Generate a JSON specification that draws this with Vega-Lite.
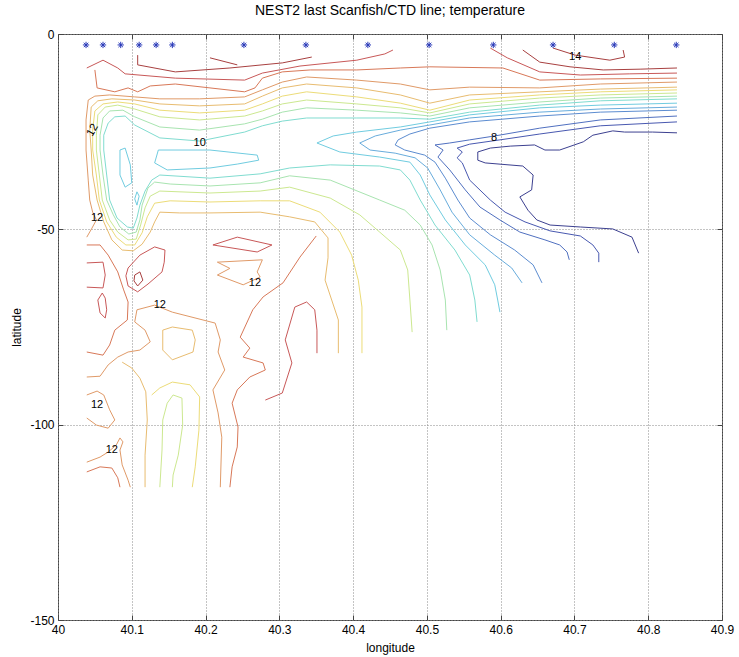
{
"$schema":"https://vega.github.io/schema/vega-lite/v6.json",
"width":664,"height":586,
"autosize":{"type":"none"},
"padding":{"left":58,"top":34,"right":17,"bottom":37},
"background":"#ffffff",
"title":{"text":"NEST2 last Scanfish/CTD line; temperature","font":"Liberation Sans","fontSize":14,"fontWeight":"normal","color":"#000000","offset":10},
"config":{"view":{"stroke":"#444444","strokeWidth":1},"font":"Liberation Sans",
"axis":{"labelFont":"Liberation Sans","labelFontSize":12,"labelColor":"#000000","titleFont":"Liberation Sans","titleFontSize":12,"titleFontWeight":"normal","titleColor":"#000000","domain":false,"tickColor":"#444444","gridColor":"#888888","gridDash":[1,2],"gridOpacity":1}},
"resolve":{"axis":{"x":"independent","y":"independent"}},
"datasets":{
"stars":[{"x":40.038,"y":-2.8},{"x":40.061,"y":-2.8},{"x":40.085,"y":-2.8},{"x":40.110,"y":-2.8},{"x":40.133,"y":-2.8},{"x":40.155,"y":-2.8},{"x":40.252,"y":-2.8},{"x":40.336,"y":-2.8},{"x":40.420,"y":-2.8},{"x":40.503,"y":-2.8},{"x":40.590,"y":-2.8},{"x":40.671,"y":-2.8},{"x":40.754,"y":-2.8},{"x":40.838,"y":-2.8}],
"labels":[{"s":"14","x":40.701,"y":-5.9},{"s":"10","x":40.192,"y":-27.9},{"s":"8","x":40.591,"y":-26.6},{"s":"12","x":40.053,"y":-47.1},{"s":"12","x":40.267,"y":-63.7},{"s":"12","x":40.138,"y":-69.4},{"s":"12","x":40.053,"y":-94.9},{"s":"12","x":40.073,"y":-106.5}],
"rlabels":[{"s":"12","x":40.047,"y":-24.6}],
"lines":[
{"k":"a1","t":14,"x":40.108,"y":-5.4},{"k":"a1","t":14,"x":40.108,"y":-7.9},{"k":"a1","t":14,"x":40.159,"y":-9.7},{"k":"a1","t":14,"x":40.233,"y":-8.7},{"k":"a1","t":14,"x":40.304,"y":-7.4},{"k":"a1","t":14,"x":40.344,"y":-5.9},
{"k":"a2","t":14,"x":40.206,"y":-6.1},{"k":"a2","t":14,"x":40.243,"y":-7.9},
{"k":"a3","t":14,"x":40.630,"y":-4.1},{"k":"a3","t":14,"x":40.653,"y":-7.2},{"k":"a3","t":14,"x":40.694,"y":-8.4},{"k":"a3","t":14,"x":40.739,"y":-9.2},{"k":"a3","t":14,"x":40.789,"y":-9.0},{"k":"a3","t":14,"x":40.839,"y":-8.7},
{"k":"a4","t":14,"x":40.671,"y":-3.6},{"k":"a4","t":14,"x":40.701,"y":-5.4},{"k":"a4","t":14,"x":40.748,"y":-6.7},{"k":"a4","t":14,"x":40.768,"y":-5.9},{"k":"a4","t":14,"x":40.766,"y":-4.1},
{"k":"b1","t":13.5,"x":40.039,"y":-8.7},{"k":"b1","t":13.5,"x":40.061,"y":-6.7},{"k":"b1","t":13.5,"x":40.081,"y":-8.7},{"k":"b1","t":13.5,"x":40.091,"y":-10.2},{"k":"b1","t":13.5,"x":40.159,"y":-11.3},{"k":"b1","t":13.5,"x":40.253,"y":-11.8},{"k":"b1","t":13.5,"x":40.277,"y":-10.0},{"k":"b1","t":13.5,"x":40.328,"y":-8.2},{"k":"b1","t":13.5,"x":40.405,"y":-6.7},{"k":"b1","t":13.5,"x":40.443,"y":-5.1},{"k":"b1","t":13.5,"x":40.454,"y":-4.1},
{"k":"b2","t":13.5,"x":40.586,"y":-3.6},{"k":"b2","t":13.5,"x":40.609,"y":-6.1},{"k":"b2","t":13.5,"x":40.653,"y":-9.7},{"k":"b2","t":13.5,"x":40.708,"y":-10.5},{"k":"b2","t":13.5,"x":40.775,"y":-10.2},{"k":"b2","t":13.5,"x":40.839,"y":-10.0},
{"k":"c1","t":13,"x":40.050,"y":-9.2},{"k":"c1","t":13,"x":40.053,"y":-13.8},{"k":"c1","t":13,"x":40.077,"y":-14.8},{"k":"c1","t":13,"x":40.095,"y":-13.8},{"k":"c1","t":13,"x":40.108,"y":-14.8},{"k":"c1","t":13,"x":40.125,"y":-13.3},{"k":"c1","t":13,"x":40.159,"y":-12.8},{"k":"c1","t":13,"x":40.253,"y":-14.8},{"k":"c1","t":13,"x":40.267,"y":-13.8},{"k":"c1","t":13,"x":40.277,"y":-11.3},{"k":"c1","t":13,"x":40.304,"y":-9.7},{"k":"c1","t":13,"x":40.342,"y":-9.2},{"k":"c1","t":13,"x":40.405,"y":-9.2},{"k":"c1","t":13,"x":40.464,"y":-8.7},{"k":"c1","t":13,"x":40.504,"y":-8.4},{"k":"c1","t":13,"x":40.603,"y":-8.7},{"k":"c1","t":13,"x":40.653,"y":-11.8},{"k":"c1","t":13,"x":40.735,"y":-11.5},{"k":"c1","t":13,"x":40.839,"y":-11.3},
{"k":"d1","t":12.5,"x":40.839,"y":-12.3},{"k":"d1","t":12.5,"x":40.735,"y":-12.8},{"k":"d1","t":12.5,"x":40.653,"y":-13.8},{"k":"d1","t":12.5,"x":40.558,"y":-13.6},{"k":"d1","t":12.5,"x":40.504,"y":-14.3},{"k":"d1","t":12.5,"x":40.464,"y":-12.8},{"k":"d1","t":12.5,"x":40.405,"y":-11.8},{"k":"d1","t":12.5,"x":40.337,"y":-11.0},{"k":"d1","t":12.5,"x":40.304,"y":-12.3},{"k":"d1","t":12.5,"x":40.277,"y":-14.3},{"k":"d1","t":12.5,"x":40.253,"y":-16.1},{"k":"d1","t":12.5,"x":40.192,"y":-16.6},{"k":"d1","t":12.5,"x":40.138,"y":-16.6},{"k":"d1","t":12.5,"x":40.104,"y":-16.1},{"k":"d1","t":12.5,"x":40.070,"y":-15.6},{"k":"d1","t":12.5,"x":40.050,"y":-15.9},{"k":"d1","t":12.5,"x":40.041,"y":-16.9},{"k":"d1","t":12.5,"x":40.038,"y":-22.0},{"k":"d1","t":12.5,"x":40.038,"y":-29.7},{"k":"d1","t":12.5,"x":40.041,"y":-37.4},{"k":"d1","t":12.5,"x":40.043,"y":-42.5},{"k":"d1","t":12.5,"x":40.047,"y":-45.6},{"k":"d1","t":12.5,"x":40.052,"y":-47.6},{"k":"d1","t":12.5,"x":40.046,"y":-49.7},{"k":"d1","t":12.5,"x":40.039,"y":-52.0},
{"k":"e1","t":12,"x":40.839,"y":-13.6},{"k":"e1","t":12,"x":40.735,"y":-14.1},{"k":"e1","t":12,"x":40.653,"y":-14.8},{"k":"e1","t":12,"x":40.558,"y":-15.6},{"k":"e1","t":12,"x":40.504,"y":-17.7},{"k":"e1","t":12,"x":40.464,"y":-15.6},{"k":"e1","t":12,"x":40.405,"y":-13.8},{"k":"e1","t":12,"x":40.337,"y":-12.8},{"k":"e1","t":12,"x":40.304,"y":-13.8},{"k":"e1","t":12,"x":40.277,"y":-15.9},{"k":"e1","t":12,"x":40.253,"y":-17.9},{"k":"e1","t":12,"x":40.192,"y":-18.4},{"k":"e1","t":12,"x":40.138,"y":-17.9},{"k":"e1","t":12,"x":40.104,"y":-16.9},{"k":"e1","t":12,"x":40.073,"y":-16.6},{"k":"e1","t":12,"x":40.054,"y":-17.1},{"k":"e1","t":12,"x":40.045,"y":-18.7},{"k":"e1","t":12,"x":40.043,"y":-24.6},{"k":"e1","t":12,"x":40.045,"y":-29.7},{"k":"e1","t":12,"x":40.047,"y":-36.1},{"k":"e1","t":12,"x":40.053,"y":-42.5},{"k":"e1","t":12,"x":40.062,"y":-48.1},{"k":"e1","t":12,"x":40.073,"y":-52.7},{"k":"e1","t":12,"x":40.087,"y":-55.3},{"k":"e1","t":12,"x":40.102,"y":-55.5},{"k":"e1","t":12,"x":40.114,"y":-53.8},{"k":"e1","t":12,"x":40.125,"y":-50.7},{"k":"e1","t":12,"x":40.131,"y":-48.1},{"k":"e1","t":12,"x":40.138,"y":-45.6},{"k":"e1","t":12,"x":40.165,"y":-45.8},{"k":"e1","t":12,"x":40.206,"y":-45.8},{"k":"e1","t":12,"x":40.274,"y":-45.6},{"k":"e1","t":12,"x":40.314,"y":-46.8},{"k":"e1","t":12,"x":40.348,"y":-48.1},{"k":"e1","t":12,"x":40.366,"y":-52.2},{"k":"e1","t":12,"x":40.366,"y":-57.3},{"k":"e1","t":12,"x":40.362,"y":-63.0},{"k":"e1","t":12,"x":40.371,"y":-68.1},{"k":"e1","t":12,"x":40.380,"y":-73.2},{"k":"e1","t":12,"x":40.380,"y":-81.7},
{"k":"f1","t":11.5,"x":40.839,"y":-14.3},{"k":"f1","t":11.5,"x":40.735,"y":-14.8},{"k":"f1","t":11.5,"x":40.653,"y":-15.6},{"k":"f1","t":11.5,"x":40.558,"y":-16.9},{"k":"f1","t":11.5,"x":40.504,"y":-19.5},{"k":"f1","t":11.5,"x":40.464,"y":-17.7},{"k":"f1","t":11.5,"x":40.405,"y":-16.1},{"k":"f1","t":11.5,"x":40.337,"y":-14.8},{"k":"f1","t":11.5,"x":40.304,"y":-15.9},{"k":"f1","t":11.5,"x":40.277,"y":-17.9},{"k":"f1","t":11.5,"x":40.253,"y":-19.5},{"k":"f1","t":11.5,"x":40.192,"y":-20.2},{"k":"f1","t":11.5,"x":40.138,"y":-19.5},{"k":"f1","t":11.5,"x":40.104,"y":-17.9},{"k":"f1","t":11.5,"x":40.081,"y":-17.4},{"k":"f1","t":11.5,"x":40.061,"y":-17.9},{"k":"f1","t":11.5,"x":40.050,"y":-19.7},{"k":"f1","t":11.5,"x":40.047,"y":-24.6},{"k":"f1","t":11.5,"x":40.047,"y":-29.7},{"k":"f1","t":11.5,"x":40.052,"y":-36.1},{"k":"f1","t":11.5,"x":40.056,"y":-42.5},{"k":"f1","t":11.5,"x":40.066,"y":-48.1},{"k":"f1","t":11.5,"x":40.079,"y":-52.0},{"k":"f1","t":11.5,"x":40.092,"y":-54.0},{"k":"f1","t":11.5,"x":40.104,"y":-54.0},{"k":"f1","t":11.5,"x":40.114,"y":-50.9},{"k":"f1","t":11.5,"x":40.121,"y":-46.8},{"k":"f1","t":11.5,"x":40.131,"y":-43.3},{"k":"f1","t":11.5,"x":40.152,"y":-42.7},{"k":"f1","t":11.5,"x":40.206,"y":-43.0},{"k":"f1","t":11.5,"x":40.274,"y":-42.7},{"k":"f1","t":11.5,"x":40.314,"y":-42.7},{"k":"f1","t":11.5,"x":40.355,"y":-45.6},{"k":"f1","t":11.5,"x":40.382,"y":-50.7},{"k":"f1","t":11.5,"x":40.398,"y":-56.6},{"k":"f1","t":11.5,"x":40.407,"y":-63.0},{"k":"f1","t":11.5,"x":40.412,"y":-69.9},{"k":"f1","t":11.5,"x":40.412,"y":-81.7},
{"k":"g1","t":11,"x":40.839,"y":-15.1},{"k":"g1","t":11,"x":40.735,"y":-15.6},{"k":"g1","t":11,"x":40.653,"y":-16.4},{"k":"g1","t":11,"x":40.558,"y":-17.9},{"k":"g1","t":11,"x":40.504,"y":-20.2},{"k":"g1","t":11,"x":40.464,"y":-18.9},{"k":"g1","t":11,"x":40.405,"y":-17.9},{"k":"g1","t":11,"x":40.337,"y":-16.9},{"k":"g1","t":11,"x":40.304,"y":-17.9},{"k":"g1","t":11,"x":40.277,"y":-19.7},{"k":"g1","t":11,"x":40.253,"y":-21.0},{"k":"g1","t":11,"x":40.192,"y":-22.0},{"k":"g1","t":11,"x":40.138,"y":-21.2},{"k":"g1","t":11,"x":40.104,"y":-19.2},{"k":"g1","t":11,"x":40.081,"y":-18.2},{"k":"g1","t":11,"x":40.064,"y":-18.7},{"k":"g1","t":11,"x":40.054,"y":-20.7},{"k":"g1","t":11,"x":40.052,"y":-25.9},{"k":"g1","t":11,"x":40.052,"y":-29.7},{"k":"g1","t":11,"x":40.056,"y":-36.1},{"k":"g1","t":11,"x":40.060,"y":-42.5},{"k":"g1","t":11,"x":40.070,"y":-47.6},{"k":"g1","t":11,"x":40.081,"y":-50.7},{"k":"g1","t":11,"x":40.095,"y":-52.7},{"k":"g1","t":11,"x":40.106,"y":-52.5},{"k":"g1","t":11,"x":40.112,"y":-48.9},{"k":"g1","t":11,"x":40.118,"y":-44.5},{"k":"g1","t":11,"x":40.125,"y":-41.5},{"k":"g1","t":11,"x":40.138,"y":-40.2},{"k":"g1","t":11,"x":40.206,"y":-40.7},{"k":"g1","t":11,"x":40.274,"y":-40.2},{"k":"g1","t":11,"x":40.314,"y":-39.2},{"k":"g1","t":11,"x":40.369,"y":-42.0},{"k":"g1","t":11,"x":40.409,"y":-46.3},{"k":"g1","t":11,"x":40.436,"y":-50.7},{"k":"g1","t":11,"x":40.464,"y":-55.3},{"k":"g1","t":11,"x":40.474,"y":-60.4},{"k":"g1","t":11,"x":40.477,"y":-68.1},{"k":"g1","t":11,"x":40.480,"y":-76.3},
{"k":"h1","t":10.5,"x":40.839,"y":-15.9},{"k":"h1","t":10.5,"x":40.735,"y":-16.4},{"k":"h1","t":10.5,"x":40.653,"y":-17.4},{"k":"h1","t":10.5,"x":40.558,"y":-18.9},{"k":"h1","t":10.5,"x":40.504,"y":-21.0},{"k":"h1","t":10.5,"x":40.464,"y":-20.2},{"k":"h1","t":10.5,"x":40.405,"y":-19.5},{"k":"h1","t":10.5,"x":40.337,"y":-18.9},{"k":"h1","t":10.5,"x":40.304,"y":-20.0},{"k":"h1","t":10.5,"x":40.277,"y":-21.8},{"k":"h1","t":10.5,"x":40.253,"y":-23.0},{"k":"h1","t":10.5,"x":40.192,"y":-24.6},{"k":"h1","t":10.5,"x":40.138,"y":-23.8},{"k":"h1","t":10.5,"x":40.104,"y":-21.2},{"k":"h1","t":10.5,"x":40.088,"y":-19.5},{"k":"h1","t":10.5,"x":40.070,"y":-19.7},{"k":"h1","t":10.5,"x":40.061,"y":-21.5},{"k":"h1","t":10.5,"x":40.057,"y":-25.9},{"k":"h1","t":10.5,"x":40.057,"y":-29.7},{"k":"h1","t":10.5,"x":40.061,"y":-36.1},{"k":"h1","t":10.5,"x":40.066,"y":-42.5},{"k":"h1","t":10.5,"x":40.075,"y":-46.3},{"k":"h1","t":10.5,"x":40.084,"y":-49.4},{"k":"h1","t":10.5,"x":40.096,"y":-51.2},{"k":"h1","t":10.5,"x":40.106,"y":-50.7},{"k":"h1","t":10.5,"x":40.111,"y":-47.6},{"k":"h1","t":10.5,"x":40.114,"y":-43.8},{"k":"h1","t":10.5,"x":40.122,"y":-39.4},{"k":"h1","t":10.5,"x":40.131,"y":-37.9},{"k":"h1","t":10.5,"x":40.152,"y":-38.4},{"k":"h1","t":10.5,"x":40.206,"y":-38.9},{"k":"h1","t":10.5,"x":40.274,"y":-38.1},{"k":"h1","t":10.5,"x":40.314,"y":-36.3},{"k":"h1","t":10.5,"x":40.369,"y":-37.4},{"k":"h1","t":10.5,"x":40.436,"y":-42.5},{"k":"h1","t":10.5,"x":40.470,"y":-45.1},{"k":"h1","t":10.5,"x":40.491,"y":-48.9},{"k":"h1","t":10.5,"x":40.507,"y":-54.0},{"k":"h1","t":10.5,"x":40.518,"y":-60.4},{"k":"h1","t":10.5,"x":40.525,"y":-68.1},{"k":"h1","t":10.5,"x":40.527,"y":-75.8},
{"k":"i1","t":10,"x":40.839,"y":-16.6},{"k":"i1","t":10,"x":40.735,"y":-17.1},{"k":"i1","t":10,"x":40.653,"y":-18.2},{"k":"i1","t":10,"x":40.558,"y":-20.0},{"k":"i1","t":10,"x":40.504,"y":-21.8},{"k":"i1","t":10,"x":40.464,"y":-21.5},{"k":"i1","t":10,"x":40.405,"y":-21.5},{"k":"i1","t":10,"x":40.337,"y":-21.5},{"k":"i1","t":10,"x":40.304,"y":-22.3},{"k":"i1","t":10,"x":40.277,"y":-23.5},{"k":"i1","t":10,"x":40.253,"y":-25.1},{"k":"i1","t":10,"x":40.192,"y":-27.4},{"k":"i1","t":10,"x":40.138,"y":-26.6},{"k":"i1","t":10,"x":40.104,"y":-23.3},{"k":"i1","t":10,"x":40.091,"y":-21.0},{"k":"i1","t":10,"x":40.077,"y":-21.2},{"k":"i1","t":10,"x":40.068,"y":-22.8},{"k":"i1","t":10,"x":40.062,"y":-25.9},{"k":"i1","t":10,"x":40.062,"y":-29.7},{"k":"i1","t":10,"x":40.066,"y":-36.1},{"k":"i1","t":10,"x":40.070,"y":-42.5},{"k":"i1","t":10,"x":40.080,"y":-47.1},{"k":"i1","t":10,"x":40.094,"y":-49.4},{"k":"i1","t":10,"x":40.102,"y":-49.7},{"k":"i1","t":10,"x":40.107,"y":-47.1},{"k":"i1","t":10,"x":40.111,"y":-43.8},{"k":"i1","t":10,"x":40.118,"y":-40.2},{"k":"i1","t":10,"x":40.127,"y":-37.4},{"k":"i1","t":10,"x":40.138,"y":-36.1},{"k":"i1","t":10,"x":40.206,"y":-36.9},{"k":"i1","t":10,"x":40.274,"y":-35.8},{"k":"i1","t":10,"x":40.314,"y":-34.3},{"k":"i1","t":10,"x":40.369,"y":-33.5},{"k":"i1","t":10,"x":40.436,"y":-33.8},{"k":"i1","t":10,"x":40.464,"y":-34.8},{"k":"i1","t":10,"x":40.477,"y":-37.4},{"k":"i1","t":10,"x":40.491,"y":-42.5},{"k":"i1","t":10,"x":40.511,"y":-48.9},{"k":"i1","t":10,"x":40.538,"y":-55.3},{"k":"i1","t":10,"x":40.558,"y":-61.7},{"k":"i1","t":10,"x":40.565,"y":-68.1},{"k":"i1","t":10,"x":40.568,"y":-73.7},
{"k":"j1","t":9.5,"x":40.136,"y":-29.7},{"k":"j1","t":9.5,"x":40.206,"y":-29.7},{"k":"j1","t":9.5,"x":40.270,"y":-31.0},{"k":"j1","t":9.5,"x":40.272,"y":-32.3},{"k":"j1","t":9.5,"x":40.243,"y":-33.3},{"k":"j1","t":9.5,"x":40.206,"y":-34.3},{"k":"j1","t":9.5,"x":40.148,"y":-34.8},{"k":"j1","t":9.5,"x":40.131,"y":-33.0},{"k":"j1","t":9.5,"x":40.136,"y":-29.7},
{"k":"j2","t":9.5,"x":40.084,"y":-29.7},{"k":"j2","t":9.5,"x":40.091,"y":-29.2},{"k":"j2","t":9.5,"x":40.098,"y":-33.5},{"k":"j2","t":9.5,"x":40.100,"y":-38.1},{"k":"j2","t":9.5,"x":40.091,"y":-39.2},{"k":"j2","t":9.5,"x":40.084,"y":-36.1},{"k":"j2","t":9.5,"x":40.084,"y":-29.7},
{"k":"j3","t":9.5,"x":40.107,"y":-40.4},{"k":"j3","t":9.5,"x":40.110,"y":-41.5},{"k":"j3","t":9.5,"x":40.107,"y":-43.8},{"k":"j3","t":9.5,"x":40.104,"y":-42.2},{"k":"j3","t":9.5,"x":40.107,"y":-40.4},
{"k":"m6","t":9.5,"x":40.839,"y":-17.7},{"k":"m6","t":9.5,"x":40.735,"y":-18.2},{"k":"m6","t":9.5,"x":40.653,"y":-18.9},{"k":"m6","t":9.5,"x":40.558,"y":-20.7},{"k":"m6","t":9.5,"x":40.504,"y":-22.5},{"k":"m6","t":9.5,"x":40.464,"y":-23.8},{"k":"m6","t":9.5,"x":40.405,"y":-25.1},{"k":"m6","t":9.5,"x":40.373,"y":-26.1},{"k":"m6","t":9.5,"x":40.351,"y":-27.9},{"k":"m6","t":9.5,"x":40.382,"y":-30.2},{"k":"m6","t":9.5,"x":40.436,"y":-31.5},{"k":"m6","t":9.5,"x":40.477,"y":-32.8},{"k":"m6","t":9.5,"x":40.491,"y":-36.1},{"k":"m6","t":9.5,"x":40.504,"y":-41.2},{"k":"m6","t":9.5,"x":40.525,"y":-47.6},{"k":"m6","t":9.5,"x":40.552,"y":-54.0},{"k":"m6","t":9.5,"x":40.579,"y":-59.1},{"k":"m6","t":9.5,"x":40.592,"y":-64.2},{"k":"m6","t":9.5,"x":40.596,"y":-68.1},{"k":"m6","t":9.5,"x":40.599,"y":-71.2},
{"k":"m5","t":9,"x":40.839,"y":-18.7},{"k":"m5","t":9,"x":40.735,"y":-19.2},{"k":"m5","t":9,"x":40.653,"y":-20.0},{"k":"m5","t":9,"x":40.558,"y":-21.5},{"k":"m5","t":9,"x":40.504,"y":-23.3},{"k":"m5","t":9,"x":40.464,"y":-24.6},{"k":"m5","t":9,"x":40.430,"y":-26.1},{"k":"m5","t":9,"x":40.409,"y":-27.9},{"k":"m5","t":9,"x":40.423,"y":-29.7},{"k":"m5","t":9,"x":40.457,"y":-30.5},{"k":"m5","t":9,"x":40.484,"y":-31.7},{"k":"m5","t":9,"x":40.501,"y":-34.3},{"k":"m5","t":9,"x":40.518,"y":-39.9},{"k":"m5","t":9,"x":40.534,"y":-45.6},{"k":"m5","t":9,"x":40.558,"y":-51.4},{"k":"m5","t":9,"x":40.592,"y":-56.6},{"k":"m5","t":9,"x":40.615,"y":-59.9},{"k":"m5","t":9,"x":40.629,"y":-63.7},
{"k":"m4","t":8.5,"x":40.839,"y":-19.5},{"k":"m4","t":8.5,"x":40.735,"y":-20.0},{"k":"m4","t":8.5,"x":40.653,"y":-21.0},{"k":"m4","t":8.5,"x":40.558,"y":-22.5},{"k":"m4","t":8.5,"x":40.504,"y":-24.1},{"k":"m4","t":8.5,"x":40.477,"y":-25.6},{"k":"m4","t":8.5,"x":40.461,"y":-27.1},{"k":"m4","t":8.5,"x":40.457,"y":-28.4},{"k":"m4","t":8.5,"x":40.470,"y":-29.7},{"k":"m4","t":8.5,"x":40.497,"y":-31.0},{"k":"m4","t":8.5,"x":40.511,"y":-32.8},{"k":"m4","t":8.5,"x":40.525,"y":-36.9},{"k":"m4","t":8.5,"x":40.542,"y":-42.5},{"k":"m4","t":8.5,"x":40.558,"y":-47.1},{"k":"m4","t":8.5,"x":40.586,"y":-51.4},{"k":"m4","t":8.5,"x":40.619,"y":-55.3},{"k":"m4","t":8.5,"x":40.644,"y":-59.1},{"k":"m4","t":8.5,"x":40.656,"y":-63.7},
{"k":"m3","t":8,"x":40.839,"y":-21.0},{"k":"m3","t":8,"x":40.735,"y":-22.0},{"k":"m3","t":8,"x":40.653,"y":-24.1},{"k":"m3","t":8,"x":40.592,"y":-26.1},{"k":"m3","t":8,"x":40.558,"y":-27.1},{"k":"m3","t":8,"x":40.531,"y":-27.9},{"k":"m3","t":8,"x":40.511,"y":-28.4},{"k":"m3","t":8,"x":40.522,"y":-29.7},{"k":"m3","t":8,"x":40.515,"y":-31.5},{"k":"m3","t":8,"x":40.531,"y":-34.8},{"k":"m3","t":8,"x":40.552,"y":-39.9},{"k":"m3","t":8,"x":40.572,"y":-44.3},{"k":"m3","t":8,"x":40.599,"y":-47.6},{"k":"m3","t":8,"x":40.626,"y":-50.7},{"k":"m3","t":8,"x":40.660,"y":-52.7},{"k":"m3","t":8,"x":40.680,"y":-54.0},{"k":"m3","t":8,"x":40.690,"y":-55.8},{"k":"m3","t":8,"x":40.693,"y":-57.8},
{"k":"m2","t":7.5,"x":40.839,"y":-22.5},{"k":"m2","t":7.5,"x":40.735,"y":-23.5},{"k":"m2","t":7.5,"x":40.653,"y":-25.6},{"k":"m2","t":7.5,"x":40.599,"y":-27.1},{"k":"m2","t":7.5,"x":40.558,"y":-28.2},{"k":"m2","t":7.5,"x":40.541,"y":-29.2},{"k":"m2","t":7.5,"x":40.548,"y":-30.2},{"k":"m2","t":7.5,"x":40.541,"y":-31.7},{"k":"m2","t":7.5,"x":40.548,"y":-33.0},{"k":"m2","t":7.5,"x":40.558,"y":-37.4},{"k":"m2","t":7.5,"x":40.586,"y":-42.5},{"k":"m2","t":7.5,"x":40.606,"y":-45.6},{"k":"m2","t":7.5,"x":40.633,"y":-48.1},{"k":"m2","t":7.5,"x":40.667,"y":-50.4},{"k":"m2","t":7.5,"x":40.708,"y":-51.7},{"k":"m2","t":7.5,"x":40.725,"y":-54.0},{"k":"m2","t":7.5,"x":40.733,"y":-56.1},{"k":"m2","t":7.5,"x":40.733,"y":-58.4},
{"k":"m1","t":7,"x":40.839,"y":-25.3},{"k":"m1","t":7,"x":40.806,"y":-25.1},{"k":"m1","t":7,"x":40.768,"y":-25.1},{"k":"m1","t":7,"x":40.752,"y":-24.8},{"k":"m1","t":7,"x":40.725,"y":-25.9},{"k":"m1","t":7,"x":40.712,"y":-27.6},{"k":"m1","t":7,"x":40.680,"y":-29.7},{"k":"m1","t":7,"x":40.660,"y":-29.7},{"k":"m1","t":7,"x":40.646,"y":-28.4},{"k":"m1","t":7,"x":40.613,"y":-28.7},{"k":"m1","t":7,"x":40.586,"y":-29.2},{"k":"m1","t":7,"x":40.569,"y":-30.2},{"k":"m1","t":7,"x":40.569,"y":-32.3},{"k":"m1","t":7,"x":40.579,"y":-33.0},{"k":"m1","t":7,"x":40.630,"y":-33.8},{"k":"m1","t":7,"x":40.644,"y":-36.1},{"k":"m1","t":7,"x":40.642,"y":-39.9},{"k":"m1","t":7,"x":40.626,"y":-41.7},{"k":"m1","t":7,"x":40.637,"y":-45.1},{"k":"m1","t":7,"x":40.649,"y":-47.6},{"k":"m1","t":7,"x":40.667,"y":-48.9},{"k":"m1","t":7,"x":40.708,"y":-49.4},{"k":"m1","t":7,"x":40.752,"y":-49.9},{"k":"m1","t":7,"x":40.778,"y":-52.0},{"k":"m1","t":7,"x":40.787,"y":-56.1},
{"k":"n1","t":13.5,"x":40.039,"y":-58.6},{"k":"n1","t":13.5,"x":40.061,"y":-58.4},{"k":"n1","t":13.5,"x":40.064,"y":-61.7},{"k":"n1","t":13.5,"x":40.061,"y":-65.0},{"k":"n1","t":13.5,"x":40.039,"y":-64.8},
{"k":"n2","t":13.5,"x":40.054,"y":-68.1},{"k":"n2","t":13.5,"x":40.060,"y":-66.3},{"k":"n2","t":13.5,"x":40.064,"y":-67.6},{"k":"n2","t":13.5,"x":40.066,"y":-70.6},{"k":"n2","t":13.5,"x":40.064,"y":-72.7},{"k":"n2","t":13.5,"x":40.057,"y":-71.4},{"k":"n2","t":13.5,"x":40.054,"y":-68.1},
{"k":"n3","t":13.5,"x":40.095,"y":-59.9},{"k":"n3","t":13.5,"x":40.111,"y":-56.6},{"k":"n3","t":13.5,"x":40.131,"y":-54.5},{"k":"n3","t":13.5,"x":40.145,"y":-55.3},{"k":"n3","t":13.5,"x":40.144,"y":-58.4},{"k":"n3","t":13.5,"x":40.141,"y":-60.9},{"k":"n3","t":13.5,"x":40.122,"y":-64.0},{"k":"n3","t":13.5,"x":40.108,"y":-66.0},{"k":"n3","t":13.5,"x":40.095,"y":-64.5},{"k":"n3","t":13.5,"x":40.092,"y":-61.9},{"k":"n3","t":13.5,"x":40.095,"y":-59.9},
{"k":"n4","t":14,"x":40.104,"y":-61.7},{"k":"n4","t":14,"x":40.111,"y":-60.9},{"k":"n4","t":14,"x":40.115,"y":-63.0},{"k":"n4","t":14,"x":40.108,"y":-64.5},{"k":"n4","t":14,"x":40.103,"y":-63.2},{"k":"n4","t":14,"x":40.104,"y":-61.7},
{"k":"n5","t":13,"x":40.039,"y":-54.0},{"k":"n5","t":13,"x":40.057,"y":-54.0},{"k":"n5","t":13,"x":40.068,"y":-56.6},{"k":"n5","t":13,"x":40.081,"y":-60.9},{"k":"n5","t":13,"x":40.089,"y":-65.5},{"k":"n5","t":13,"x":40.095,"y":-68.6},{"k":"n5","t":13,"x":40.094,"y":-73.2},{"k":"n5","t":13,"x":40.077,"y":-75.8},{"k":"n5","t":13,"x":40.070,"y":-79.6},{"k":"n5","t":13,"x":40.061,"y":-82.2},{"k":"n5","t":13,"x":40.039,"y":-81.4},
{"k":"n6","t":12.5,"x":40.039,"y":-87.8},{"k":"n6","t":12.5,"x":40.057,"y":-87.6},{"k":"n6","t":12.5,"x":40.068,"y":-84.7},{"k":"n6","t":12.5,"x":40.081,"y":-82.7},{"k":"n6","t":12.5,"x":40.095,"y":-81.4},{"k":"n6","t":12.5,"x":40.111,"y":-80.9},{"k":"n6","t":12.5,"x":40.125,"y":-78.8},{"k":"n6","t":12.5,"x":40.118,"y":-75.8},{"k":"n6","t":12.5,"x":40.104,"y":-73.7},{"k":"n6","t":12.5,"x":40.107,"y":-70.6},{"k":"n6","t":12.5,"x":40.131,"y":-69.4},{"k":"n6","t":12.5,"x":40.155,"y":-71.2},{"k":"n6","t":12.5,"x":40.213,"y":-74.0},{"k":"n6","t":12.5,"x":40.220,"y":-78.3},{"k":"n6","t":12.5,"x":40.217,"y":-81.4},{"k":"n6","t":12.5,"x":40.226,"y":-86.0},{"k":"n6","t":12.5,"x":40.210,"y":-91.1},{"k":"n6","t":12.5,"x":40.217,"y":-97.0},{"k":"n6","t":12.5,"x":40.222,"y":-103.2},{"k":"n6","t":12.5,"x":40.220,"y":-116.0},
{"k":"n7","t":12,"x":40.142,"y":-75.8},{"k":"n7","t":12,"x":40.155,"y":-75.0},{"k":"n7","t":12,"x":40.182,"y":-75.8},{"k":"n7","t":12,"x":40.186,"y":-78.3},{"k":"n7","t":12,"x":40.183,"y":-81.4},{"k":"n7","t":12,"x":40.155,"y":-83.4},{"k":"n7","t":12,"x":40.142,"y":-80.9},{"k":"n7","t":12,"x":40.142,"y":-75.8},
{"k":"n8","t":12,"x":40.087,"y":-84.0},{"k":"n8","t":12,"x":40.100,"y":-85.5},{"k":"n8","t":12,"x":40.111,"y":-88.1},{"k":"n8","t":12,"x":40.119,"y":-91.6},{"k":"n8","t":12,"x":40.121,"y":-98.8},{"k":"n8","t":12,"x":40.118,"y":-107.8},{"k":"n8","t":12,"x":40.118,"y":-116.0},
{"k":"n9","t":11.5,"x":40.127,"y":-92.4},{"k":"n9","t":11.5,"x":40.138,"y":-90.6},{"k":"n9","t":11.5,"x":40.155,"y":-89.1},{"k":"n9","t":11.5,"x":40.179,"y":-89.8},{"k":"n9","t":11.5,"x":40.192,"y":-92.9},{"k":"n9","t":11.5,"x":40.191,"y":-101.4},{"k":"n9","t":11.5,"x":40.186,"y":-110.8},{"k":"n9","t":11.5,"x":40.182,"y":-116.0},
{"k":"n10","t":11,"x":40.138,"y":-116.0},{"k":"n10","t":11,"x":40.141,"y":-106.5},{"k":"n10","t":11,"x":40.142,"y":-98.8},{"k":"n10","t":11,"x":40.148,"y":-94.5},{"k":"n10","t":11,"x":40.156,"y":-92.4},{"k":"n10","t":11,"x":40.168,"y":-93.2},{"k":"n10","t":11,"x":40.169,"y":-100.1},{"k":"n10","t":11,"x":40.163,"y":-107.8},{"k":"n10","t":11,"x":40.156,"y":-112.9},{"k":"n10","t":11,"x":40.155,"y":-116.0},
{"k":"n11","t":12.5,"x":40.039,"y":-92.4},{"k":"n11","t":12.5,"x":40.053,"y":-91.4},{"k":"n11","t":12.5,"x":40.062,"y":-92.4},{"k":"n11","t":12.5,"x":40.070,"y":-96.2},{"k":"n11","t":12.5,"x":40.077,"y":-98.8},{"k":"n11","t":12.5,"x":40.068,"y":-100.9},{"k":"n11","t":12.5,"x":40.052,"y":-100.1},{"k":"n11","t":12.5,"x":40.039,"y":-98.3},
{"k":"n12","t":12.5,"x":40.039,"y":-109.6},{"k":"n12","t":12.5,"x":40.057,"y":-108.3},{"k":"n12","t":12.5,"x":40.068,"y":-107.0},{"k":"n12","t":12.5,"x":40.079,"y":-105.2},{"k":"n12","t":12.5,"x":40.084,"y":-103.4},{"k":"n12","t":12.5,"x":40.088,"y":-104.4},{"k":"n12","t":12.5,"x":40.084,"y":-106.5},{"k":"n12","t":12.5,"x":40.087,"y":-110.3},{"k":"n12","t":12.5,"x":40.095,"y":-114.2},{"k":"n12","t":12.5,"x":40.098,"y":-116.0},
{"k":"n13","t":13,"x":40.039,"y":-112.1},{"k":"n13","t":13,"x":40.057,"y":-110.8},{"k":"n13","t":13,"x":40.073,"y":-111.1},{"k":"n13","t":13,"x":40.081,"y":-113.6},{"k":"n13","t":13,"x":40.084,"y":-116.0},
{"k":"n14","t":13,"x":40.350,"y":-51.7},{"k":"n14","t":13,"x":40.328,"y":-57.1},{"k":"n14","t":13,"x":40.305,"y":-63.7},{"k":"n14","t":13,"x":40.278,"y":-67.3},{"k":"n14","t":13,"x":40.264,"y":-70.6},{"k":"n14","t":13,"x":40.247,"y":-77.6},{"k":"n14","t":13,"x":40.260,"y":-80.4},{"k":"n14","t":13,"x":40.251,"y":-82.7},{"k":"n14","t":13,"x":40.278,"y":-84.2},{"k":"n14","t":13,"x":40.281,"y":-86.0},{"k":"n14","t":13,"x":40.260,"y":-87.8},{"k":"n14","t":13,"x":40.243,"y":-91.1},{"k":"n14","t":13,"x":40.236,"y":-94.5},{"k":"n14","t":13,"x":40.244,"y":-100.6},{"k":"n14","t":13,"x":40.243,"y":-105.7},{"k":"n14","t":13,"x":40.236,"y":-110.8},{"k":"n14","t":13,"x":40.233,"y":-116.0},
{"k":"n15","t":13.5,"x":40.210,"y":-54.0},{"k":"n15","t":13.5,"x":40.243,"y":-52.0},{"k":"n15","t":13.5,"x":40.290,"y":-54.0},{"k":"n15","t":13.5,"x":40.270,"y":-55.8},{"k":"n15","t":13.5,"x":40.210,"y":-54.0},
{"k":"n16","t":12.5,"x":40.216,"y":-58.4},{"k":"n16","t":12.5,"x":40.277,"y":-57.8},{"k":"n16","t":12.5,"x":40.270,"y":-60.9},{"k":"n16","t":12.5,"x":40.274,"y":-62.2},{"k":"n16","t":12.5,"x":40.251,"y":-64.2},{"k":"n16","t":12.5,"x":40.216,"y":-61.7},{"k":"n16","t":12.5,"x":40.233,"y":-60.0},{"k":"n16","t":12.5,"x":40.216,"y":-58.4},
{"k":"n17","t":13.5,"x":40.281,"y":-93.7},{"k":"n17","t":13.5,"x":40.304,"y":-91.9},{"k":"n17","t":13.5,"x":40.317,"y":-84.2},{"k":"n17","t":13.5,"x":40.308,"y":-78.3},{"k":"n17","t":13.5,"x":40.321,"y":-69.9},{"k":"n17","t":13.5,"x":40.337,"y":-68.6},{"k":"n17","t":13.5,"x":40.348,"y":-70.6},{"k":"n17","t":13.5,"x":40.351,"y":-75.8},{"k":"n17","t":13.5,"x":40.351,"y":-81.7}
]},
"layer":[
{"data":{"name":"lines"},"mark":{"type":"line","strokeWidth":1,"clip":true},
"encoding":{
"x":{"field":"x","type":"quantitative","scale":{"domain":[40,40.9],"nice":false,"zero":false},"axis":{"title":"longitude","orient":"bottom","values":[40,40.1,40.2,40.3,40.4,40.5,40.6,40.7,40.8,40.9],"labelExpr":"format(datum.value,'.1~f')","grid":true,"tickSize":-5,"labelPadding":9,"titlePadding":7,"labelFlush":false}},
"y":{"field":"y","type":"quantitative","scale":{"domain":[-150,0],"nice":false,"zero":false},"axis":{"title":"latitude","orient":"left","values":[-150,-100,-50,0],"labelExpr":"datum.value < 0 ? '-' + (-datum.value) : '' + datum.value","grid":true,"tickSize":-5,"labelPadding":9,"titlePadding":6,"labelFlush":false}},
"color":{"field":"t","type":"ordinal","scale":{"domain":[14,13.5,13,12.5,12,11.5,11,10.5,10,9.5,9,8.5,8,7.5,7],"range":["#a84040","#c85858","#d87858","#e09a68","#e8bc70","#ecdc78","#cce890","#a8e4b0","#80dcd0","#70cce0","#68acdc","#5c8cd0","#5070c0","#4858b0","#3c4090"]},"legend":null},
"detail":{"field":"k","type":"nominal"},
"order":{"value":null}}},
{"data":{"name":"stars"},"mark":{"type":"point","shape":"M0,-1L0,1M-1,0L1,0M-0.7,-0.7L0.7,0.7M-0.7,0.7L0.7,-0.7","size":40,"filled":false,"stroke":"#2838b8","strokeWidth":1,"opacity":1},
"encoding":{"x":{"field":"x","type":"quantitative","axis":{"orient":"top","labels":false,"grid":false,"title":null,"tickSize":-5,"values":[40,40.1,40.2,40.3,40.4,40.5,40.6,40.7,40.8,40.9]}},
"y":{"field":"y","type":"quantitative","axis":{"orient":"right","labels":false,"grid":false,"title":null,"tickSize":-5,"values":[-150,-100,-50,0]}}}},
{"data":{"name":"labels"},"mark":{"type":"text","fontSize":11,"font":"Liberation Sans","color":"#000000"},
"encoding":{"x":{"field":"x","type":"quantitative","axis":null},"y":{"field":"y","type":"quantitative","axis":null},"text":{"field":"s"}}},
{"data":{"name":"rlabels"},"mark":{"type":"text","fontSize":11,"font":"Liberation Sans","color":"#000000","angle":300},
"encoding":{"x":{"field":"x","type":"quantitative","axis":null},"y":{"field":"y","type":"quantitative","axis":null},"text":{"field":"s"}}}
]
}
